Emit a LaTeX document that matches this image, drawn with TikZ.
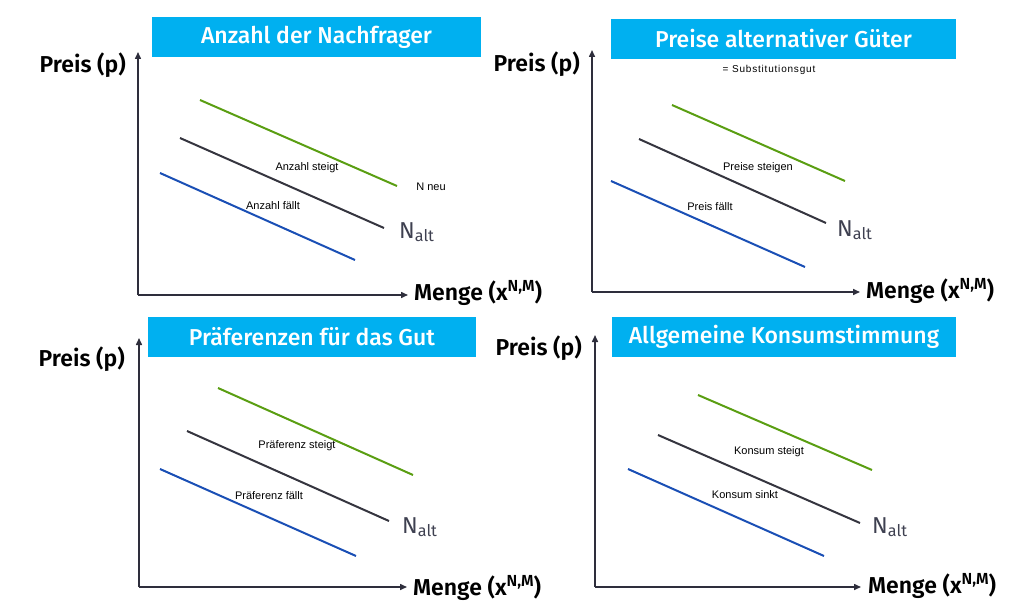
\documentclass[tikz,border=0pt]{standalone}
\usepackage{fontspec}
\setmainfont{Fira Sans}
\newfontfamily\titlefont{Fira Sans Medium}
\newfontfamily\axfont{Fira Sans SemiBold}
\newfontfamily\smallfont{Liberation Sans}
\newfontfamily\spacedfont[LetterSpace=8]{Liberation Sans}
\usetikzlibrary{arrows.meta}
\definecolor{titleblue}{HTML}{00B0F0}
\definecolor{axisgray}{HTML}{2E2E3C}
\definecolor{lgreen}{HTML}{5A9E12}
\definecolor{lblue}{HTML}{1A4FB5}
\definecolor{ldark}{HTML}{35353F}
\definecolor{naltgray}{HTML}{3E4050}
\newcommand{\supNM}{\raisebox{0.36em}{\fontsize{16}{16}\selectfont N,M}}
\tikzset{
  titlebox/.style={fill=titleblue, text=white, inner sep=0pt, font=\titlefont\fontsize{23}{24}\selectfont},
  axis/.style={draw=axisgray, line width=1.5pt, -{Triangle[length=7pt,width=6pt]}},
  gline/.style={draw=lgreen, line width=2pt},
  bline/.style={draw=lblue, line width=2pt},
  kline/.style={draw=ldark, line width=2pt},
  axlabel/.style={font=\axfont\fontsize{23}{23}\selectfont, text=black, inner sep=0pt},
  small/.style={font=\smallfont\fontsize{11}{12}\selectfont, text=black, inner sep=0pt},
  nalt/.style={font=\fontsize{23}{23}\selectfont, text=naltgray, inner sep=0pt, anchor=base west}
}
\begin{document}
\begin{tikzpicture}[x=1pt,y=-1pt]
\useasboundingbox (0,0) rectangle (1028,610);
% ---------- Panel 1 ----------
\fill[titleblue] (152,17) rectangle (481,57);
\node[titlebox] (t1) at (316.5,37) {Anzahl der Nachfrager};
\coordinate (o1) at (138,295);
\coordinate (y1) at (138,52);
\coordinate (x1) at (408,295);
\draw[axis] (o1) -- (y1);
\draw[axis] (o1) -- (x1);
\node[axlabel, anchor=base east] (p1) at (126,73) {Preis (p)};
\node[axlabel, anchor=base west] (m1) at (414,300) {Menge (x\supNM)};
\coordinate (g1a) at (200,100); \coordinate (g1b) at (397,186);
\coordinate (k1a) at (180,138); \coordinate (k1b) at (384,228);
\coordinate (b1a) at (160,173); \coordinate (b1b) at (355,260);
\draw[gline] (g1a) -- (g1b);
\draw[kline] (k1a) -- (k1b);
\draw[bline] (b1a) -- (b1b);
\node[small] (s1a) at (307,168) {Anzahl steigt};
\node[small] (s1b) at (273,206) {Anzahl fällt};
\node[small] (s1c) at (431,187) {N neu};
\node[nalt] (n1) at (399,238) {N\textsubscript{alt}};
% ---------- Panel 2 ----------
\fill[titleblue] (611,19) rectangle (956,59);
\node[titlebox] (t2) at (783.5,39) {Preise alternativer Güter};
\node[inner sep=0pt, font=\spacedfont\fontsize{10}{11}\selectfont] (sub) at (769,70) {= Substitutionsgut};
\coordinate (o2) at (592,292);
\coordinate (y2) at (592,50);
\coordinate (x2) at (860,292);
\draw[axis] (o2) -- (y2);
\draw[axis] (o2) -- (x2);
\node[axlabel, anchor=base east] (p2) at (580,71) {Preis (p)};
\node[axlabel, anchor=base west] (m2) at (866,298) {Menge (x\supNM)};
\coordinate (g2a) at (672,105); \coordinate (g2b) at (845,181);
\coordinate (k2a) at (639,139); \coordinate (k2b) at (826,223);
\coordinate (b2a) at (611,181); \coordinate (b2b) at (805,267);
\draw[gline] (g2a) -- (g2b);
\draw[kline] (k2a) -- (k2b);
\draw[bline] (b2a) -- (b2b);
\node[small] (s2a) at (758,168) {Preise steigen};
\node[small] (s2b) at (710,207) {Preis fällt};
\node[nalt] (n2) at (837,236) {N\textsubscript{alt}};
% ---------- Panel 3 ----------
\fill[titleblue] (148,317) rectangle (476,357);
\node[titlebox] (t3) at (312,337) {Präferenzen für das Gut};
\coordinate (o3) at (139,587);
\coordinate (y3) at (139,338);
\coordinate (x3) at (407,587);
\draw[axis] (o3) -- (y3);
\draw[axis] (o3) -- (x3);
\node[axlabel, anchor=base east] (p3) at (125,366) {Preis (p)};
\node[axlabel, anchor=base west] (m3) at (413,595) {Menge (x\supNM)};
\coordinate (g3a) at (218,388); \coordinate (g3b) at (413,475);
\coordinate (k3a) at (187,431); \coordinate (k3b) at (389,521);
\coordinate (b3a) at (160,469); \coordinate (b3b) at (356,556);
\draw[gline] (g3a) -- (g3b);
\draw[kline] (k3a) -- (k3b);
\draw[bline] (b3a) -- (b3b);
\node[small] (s3a) at (297,446) {Präferenz steigt};
\node[small] (s3b) at (269,496) {Präferenz fällt};
\node[nalt] (n3) at (402,533) {N\textsubscript{alt}};
% ---------- Panel 4 ----------
\fill[titleblue] (612,317) rectangle (956,357);
\node[titlebox] (t4) at (784,337) {Allgemeine Konsumstimmung};
\coordinate (o4) at (595,587);
\coordinate (y4) at (595,335);
\coordinate (x4) at (861,587);
\draw[axis] (o4) -- (y4);
\draw[axis] (o4) -- (x4);
\node[axlabel, anchor=base east] (p4) at (582,355) {Preis (p)};
\node[axlabel, anchor=base west] (m4) at (868,593) {Menge (x\supNM)};
\coordinate (g4a) at (698,395); \coordinate (g4b) at (872,470);
\coordinate (k4a) at (658,435); \coordinate (k4b) at (860,523);
\coordinate (b4a) at (628,469); \coordinate (b4b) at (824,556);
\draw[gline] (g4a) -- (g4b);
\draw[kline] (k4a) -- (k4b);
\draw[bline] (b4a) -- (b4b);
\node[small] (s4a) at (769,452) {Konsum steigt};
\node[small] (s4b) at (745,495) {Konsum sinkt};
\node[nalt] (n4) at (872,533) {N\textsubscript{alt}};
\end{tikzpicture}
\end{document}
